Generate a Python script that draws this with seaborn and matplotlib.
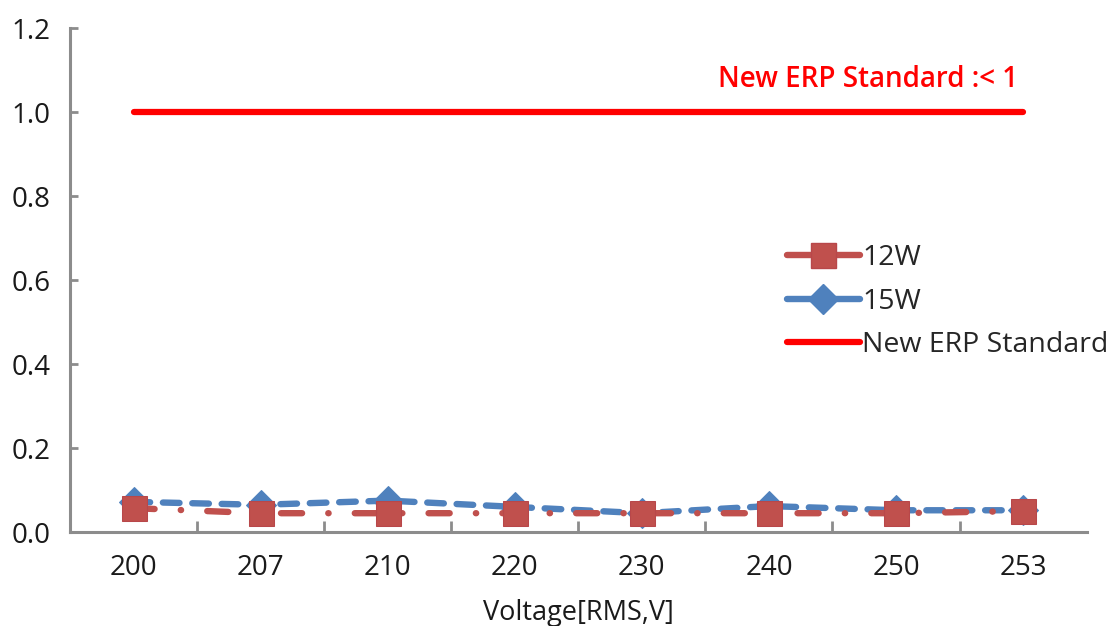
import matplotlib
matplotlib.use("Agg")
import matplotlib.pyplot as plt
import seaborn as sns
import pandas as pd
from matplotlib.lines import Line2D

voltages = ["200", "207", "210", "220", "230", "240", "250", "253"]
w12 = [0.057, 0.045, 0.045, 0.045, 0.045, 0.045, 0.045, 0.050]
w15 = [0.072, 0.065, 0.075, 0.060, 0.045, 0.062, 0.052, 0.052]
erp = [1.0] * len(voltages)

sns.set_theme(style="white")
plt.rcParams["font.family"] = ["Open Sans", "DejaVu Sans"]

df = pd.DataFrame({"Voltage": voltages, "12W": w12, "15W": w15, "ERP": erp})

fig = plt.figure(figsize=(11.16, 6.26), dpi=100)
ax = fig.add_axes([0.0627, 0.150, 0.911, 0.805])

red = "#C0504D"
blue = "#4F81BD"
lw = 4.6

sns.lineplot(data=df, x="Voltage", y="ERP", ax=ax, color="#FF0000", lw=4.5,
             sort=False, zorder=2)
sns.lineplot(data=df, x="Voltage", y="15W", ax=ax, color=blue, lw=lw,
             marker="D", markersize=15, markeredgecolor=blue, sort=False, zorder=3)
sns.lineplot(data=df, x="Voltage", y="12W", ax=ax, color=red, lw=lw,
             marker="s", markersize=18, markeredgecolor="#B8474A", sort=False, zorder=4)

lines = ax.get_lines()
blue_line = lines[1]
red_line = lines[2]
blue_line.set_dashes((2.6, 2.0))
blue_line.set_dash_capstyle("round")
red_line.set_dashes((3.3, 4.1, 0.05, 4.1))
red_line.set_dash_capstyle("round")

ax.set_xlim(-0.5, 7.5)
ax.set_ylim(0, 1.2)
ax.set_yticks([0, 0.2, 0.4, 0.6, 0.8, 1.0, 1.2])
ax.set_yticklabels(["0.0", "0.2", "0.4", "0.6", "0.8", "1.0", "1.2"])
ax.set_xticks(range(len(voltages)))
ax.set_xticklabels(voltages)
ax.set_xticks([i + 0.5 for i in range(len(voltages) - 1)], minor=True)

for s in ["top", "right"]:
    ax.spines[s].set_visible(False)
for s in ["left", "bottom"]:
    ax.spines[s].set_color("#8C8C8C")
    ax.spines[s].set_linewidth(2.2)

ax.tick_params(axis="y", which="major", direction="in", length=6, width=2,
               color="#8C8C8C", labelsize=20, pad=14, left=True)
ax.tick_params(axis="x", which="major", length=0, labelsize=20, pad=16, bottom=True)
ax.tick_params(axis="x", which="minor", direction="in", length=8, width=2,
               color="#8C8C8C", bottom=True)
for t in ax.get_xticklabels() + ax.get_yticklabels():
    t.set_color("#1a1a1a")

ax.set_xlabel("Voltage[RMS,V]", fontsize=19.5, color="#1a1a1a", labelpad=12)
ax.set_ylabel("")

ax.text(0.785, 0.898, "New ERP Standard :< 1", transform=ax.transAxes,
        color="#FF0000", fontsize=20, fontweight="semibold", ha="center", va="center")

handles = [
    Line2D([], [], color=red, lw=lw, marker="s", markersize=18,
           markeredgecolor="#B8474A", solid_capstyle="round"),
    Line2D([], [], color=blue, lw=lw, marker="D", markersize=15,
           markeredgecolor=blue, solid_capstyle="round"),
    Line2D([], [], color="#FF0000", lw=4.5, solid_capstyle="round"),
]
fig.legend(handles, ["12W", "15W", "New ERP Standard"], loc="upper left",
           bbox_to_anchor=(787 / 1116, 1 - 244 / 626), frameon=False,
           fontsize=20.5, handlelength=2.55, handletextpad=0.1, labelspacing=0.55,
           borderpad=0, borderaxespad=0)

fig.savefig("out.png", dpi=100)
